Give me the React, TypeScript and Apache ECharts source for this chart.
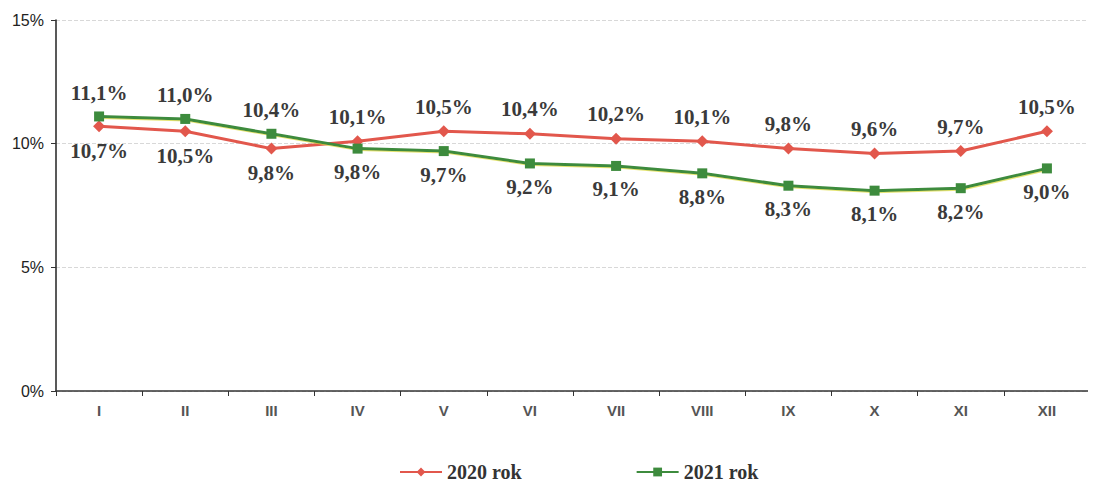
import React, { useEffect, useRef } from "react";
import * as echarts from "echarts";

const months = ["I", "II", "III", "IV", "V", "VI", "VII", "VIII", "IX", "X", "XI", "XII"];
const rok2020 = [10.7, 10.5, 9.8, 10.1, 10.5, 10.4, 10.2, 10.1, 9.8, 9.6, 9.7, 10.5];
const rok2021 = [11.1, 11.0, 10.4, 9.8, 9.7, 9.2, 9.1, 8.8, 8.3, 8.1, 8.2, 9.0];
const pos2020 = ["bottom", "bottom", "bottom", "top", "top", "top", "top", "top", "top", "top", "top", "top"];
const pos2021 = ["top", "top", "top", "bottom", "bottom", "bottom", "bottom", "bottom", "bottom", "bottom", "bottom", "bottom"];

const fmt = (v: number) => v.toFixed(1).replace(".", ",") + "%";

const labelStyle = {
  show: true,
  fontFamily: "Liberation Serif",
  fontWeight: "bold" as const,
  fontSize: 21,
  color: "#3a3a3a",
  distance: 8,
};

export default function App() {
  const ref = useRef<HTMLDivElement>(null);
  useEffect(() => {
    const chart = echarts.init(ref.current!, undefined, { renderer: "svg" });
    chart.setOption({
      animation: false,
      backgroundColor: "#ffffff",
      grid: { left: 48, right: 6, top: 12, bottom: 92 },
      legend: {
        bottom: -4,
        left: 386,
        itemGap: 114,
        itemWidth: 42,
        itemHeight: 11,
        textStyle: { fontFamily: "Liberation Serif", fontWeight: "bold", fontSize: 20, color: "#333" },
        data: ["2020 rok", "2021 rok"],
      },
      xAxis: {
        type: "category",
        data: months,
        boundaryGap: true,
        axisLine: { lineStyle: { color: "#333", width: 1.5 } },
        axisTick: { show: true, alignWithLabel: false, length: 5, lineStyle: { color: "#333" } },
        axisLabel: { fontFamily: "Liberation Sans", fontSize: 15, fontWeight: "bold", color: "#555", margin: 12 },
      },
      yAxis: {
        type: "value",
        min: 0,
        max: 15,
        interval: 5,
        axisLine: { show: true, lineStyle: { color: "#222", width: 1.5 } },
        axisTick: { show: true, length: 5, lineStyle: { color: "#333" } },
        axisLabel: {
          fontFamily: "Liberation Sans",
          fontSize: 16,
          color: "#222",
          margin: 12,
          formatter: (v: number) => v + "%",
        },
        splitLine: { show: true, lineStyle: { color: "#d8d8d8", type: "dashed", width: 1 } },
      },
      series: [
        {
          name: "2020 rok",
          type: "line",
          data: rok2020.map((v, i) => ({ value: v, label: { position: pos2020[i] } })),
          symbol: "diamond",
          symbolSize: 12,
          lineStyle: { color: "#e2574c", width: 3 },
          itemStyle: { color: "#e2574c" },
          label: { ...labelStyle, formatter: (p: any) => fmt(p.value) },
          z: 3,
        },
        {
          name: "2021 rok",
          type: "line",
          data: rok2021.map((v, i) => ({ value: v, label: { position: pos2021[i] } })),
          symbol: "rect",
          symbolSize: 10,
          lineStyle: { color: "#3d8b3d", width: 3, shadowColor: "rgba(220,220,60,0.7)", shadowOffsetY: 1, shadowOffsetX: 1, shadowBlur: 0 },
          itemStyle: { color: "#3d8b3d" },
          label: { ...labelStyle, formatter: (p: any) => fmt(p.value) },
          z: 4,
        },
      ],
    });
    return () => chart.dispose();
  }, []);
  return <div ref={ref} style={{ width: 1088, height: 475 }} />;
}
